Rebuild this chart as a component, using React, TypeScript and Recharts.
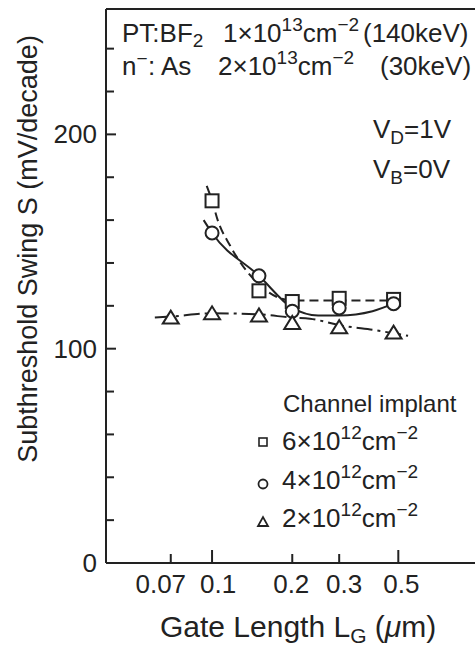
import React from 'react';
import { ComposedChart, Line, Scatter, XAxis, YAxis, ReferenceLine, Customized } from 'recharts';

const FONT = '"Liberation Sans", Arial, sans-serif';
const INK = '#222';

// Axis ticks
const xTickValues = [0.07, 0.1, 0.2, 0.3, 0.5];
const xTickLabels = ['0.07', '0.1', '0.2', '0.3', '0.5'];
const xTickNudge = [-10, 6, -1, 5, 3];
const xMajorTicks = [0.1, 0.5];
const yTickValues = [0, 20, 40, 60, 80, 100, 120, 140, 160, 180, 200, 220, 240];
const yLabeledTicks = [0, 100, 200];
const yMajorTicks = [0, 100, 200];

// Measured points: channel implant 6e12, 4e12, 2e12 cm^-2
const gateLength6 = [0.1, 0.15, 0.2, 0.3, 0.48];
const swing6 = [169, 127, 122, 123.5, 123];
const gateLength4 = [0.1, 0.15, 0.2, 0.3, 0.48];
const swing4 = [154, 134, 117.5, 119, 121];
const gateLength2 = [0.07, 0.1, 0.15, 0.2, 0.3, 0.48];
const swing2 = [114.5, 116.5, 115.5, 112, 110, 107.5];

// Hand-drawn guide curves
const curve6X = [0.0955, 0.1, 0.105, 0.117, 0.15, 0.2, 0.3, 0.48];
const curve6Y = [176, 169, 160, 148, 130, 122.5, 122.5, 122.5];
const curve4X = [0.093, 0.1, 0.15, 0.2, 0.25, 0.3, 0.4, 0.48];
const curve4Y = [160, 154, 134, 119, 115.5, 115.5, 117.5, 121];
const curve2X = [0.061, 0.07, 0.1, 0.15, 0.2, 0.233, 0.3, 0.415, 0.544];
const curve2Y = [114.6, 115, 116.5, 116, 114.5, 114, 111, 108.5, 106];

const toPoints = (xs: number[], ys: number[]) => xs.map((lg, i) => ({ lg, s: ys[i] }));

const pts6 = toPoints(gateLength6, swing6);
const pts4 = toPoints(gateLength4, swing4);
const pts2 = toPoints(gateLength2, swing2);
const fit6 = toPoints(curve6X, curve6Y);
const fit4 = toPoints(curve4X, curve4Y);
const fit2 = toPoints(curve2X, curve2Y);

const SquareMark = (p: any) => (
  <rect x={p.cx - 6.5} y={p.cy - 6.5} width={13} height={13} fill="#fff" stroke={INK} strokeWidth={2} />
);
const CircleMark = (p: any) => (
  <circle cx={p.cx} cy={p.cy} r={6.5} fill="#fff" stroke={INK} strokeWidth={2} />
);
const TriMark = (p: any) => (
  <polygon
    points={`${p.cx - 8},${p.cy + 6} ${p.cx + 8},${p.cy + 6} ${p.cx},${p.cy - 7}`}
    fill="#fff"
    stroke={INK}
    strokeWidth={2}
  />
);

const XTick = (props: any) => {
  const { x, y, payload } = props;
  const v = payload.value;
  const idx = xTickValues.indexOf(v);
  const len = xMajorTicks.includes(v) ? 13 : 9;
  return (
    <g>
      <line x1={x} x2={x} y1={y} y2={y - len} stroke={INK} strokeWidth={2} />
      <text
        x={x + (idx >= 0 ? xTickNudge[idx] : 0)}
        y={y + 30}
        textAnchor="middle"
        fontSize={26}
        fontFamily={FONT}
        fill={INK}
      >
        {idx >= 0 ? xTickLabels[idx] : String(v)}
      </text>
    </g>
  );
};

const YTick = (props: any) => {
  const { x, y, payload } = props;
  const v = payload.value;
  const len = yMajorTicks.includes(v) ? 10 : 8;
  return (
    <g>
      {v !== 0 && <line x1={x} x2={x + len} y1={y} y2={y} stroke={INK} strokeWidth={2} />}
      {yLabeledTicks.includes(v) && (
        <text x={x - 9} y={y + 9} textAnchor="end" fontSize={26} fontFamily={FONT} fill={INK}>
          {String(v)}
        </text>
      )}
    </g>
  );
};

const Annotations = () => {
  const common = { fontFamily: FONT, fill: INK } as any;
  return (
    <g>
      {/* Y title */}
      <text transform="translate(37,249) rotate(-90)" textAnchor="middle" fontSize={27} {...common}>
        Subthreshold Swing S (mV/decade)
      </text>
      {/* X title */}
      <text x={160} y={637} fontSize={30} {...common}>
        <tspan>Gate Length L</tspan>
        <tspan dy={6} fontSize={21}>G</tspan>
        <tspan dy={-6}> (</tspan>
        <tspan fontStyle="italic">μ</tspan>
        <tspan>m)</tspan>
      </text>
      {/* Process conditions */}
      <text y={42} fontSize={26} {...common}>
        <tspan x={122}>PT:BF</tspan>
        <tspan dy={5} fontSize={19}>2</tspan>
        <tspan x={223} dy={-5}>1×10</tspan>
        <tspan dy={-11} fontSize={19}>13</tspan>
        <tspan dy={11}>cm</tspan>
        <tspan dy={-11} fontSize={19}>−2</tspan>
        <tspan x={363} dy={11}>(140keV)</tspan>
      </text>
      <text y={75} fontSize={26} {...common}>
        <tspan x={122}>n</tspan>
        <tspan dy={-10} fontSize={19}>−</tspan>
        <tspan x={148} dy={10}>: As</tspan>
        <tspan x={218}>2×10</tspan>
        <tspan dy={-11} fontSize={19}>13</tspan>
        <tspan dy={11}>cm</tspan>
        <tspan dy={-11} fontSize={19}>−2</tspan>
        <tspan x={380} dy={11}>(30keV)</tspan>
      </text>
      <text y={138} fontSize={26} {...common}>
        <tspan x={373}>V</tspan>
        <tspan dy={6} fontSize={19}>D</tspan>
        <tspan dy={-6}>=1V</tspan>
      </text>
      <text y={178} fontSize={26} {...common}>
        <tspan x={373}>V</tspan>
        <tspan dy={6} fontSize={19}>B</tspan>
        <tspan dy={-6}>=0V</tspan>
      </text>
      {/* Legend */}
      <text x={283} y={412} fontSize={24} {...common}>Channel implant</text>
      <rect x={259} y={438} width={8} height={8} fill="#fff" stroke={INK} strokeWidth={1.6} />
      <circle cx={263} cy={484} r={4.5} fill="#fff" stroke={INK} strokeWidth={1.8} />
      <polygon points="258,526 268,526 263,517" fill="#fff" stroke={INK} strokeWidth={1.8} />
      {[
        { y: 450, d: '6' },
        { y: 489, d: '4' },
        { y: 527, d: '2' },
      ].map((r) => (
        <text key={r.d} y={r.y} fontSize={26} {...common}>
          <tspan x={282}>{r.d}×10</tspan>
          <tspan dy={-11} fontSize={19}>12</tspan>
          <tspan dy={11}>cm</tspan>
          <tspan dy={-11} fontSize={19}>−2</tspan>
        </text>
      ))}
    </g>
  );
};

export default function App() {
  return (
    <div style={{ position: 'absolute', left: 0, top: 0, width: 475, height: 650, background: '#fff' }}>
      <ComposedChart width={475} height={650} margin={{ top: 9, right: 0, bottom: 0, left: 0 }}>
        <XAxis
          dataKey="lg"
          type="number"
          scale="log"
          domain={[0.04, 0.97]}
          allowDataOverflow
          ticks={xTickValues}
          height={87}
          tickLine={false}
          tickSize={0}
          tickMargin={0}
          tick={<XTick />}
          axisLine={{ stroke: INK, strokeWidth: 2 }}
          interval={0}
        />
        <YAxis
          type="number"
          domain={[0, 258.5]}
          allowDataOverflow
          ticks={yTickValues}
          width={106}
          tickLine={false}
          tickSize={0}
          tickMargin={0}
          tick={<YTick />}
          axisLine={{ stroke: INK, strokeWidth: 2 }}
          interval={0}
        />
        <ReferenceLine y={258.5} stroke={INK} strokeWidth={2} />
        <Line data={fit6} dataKey="s" type="monotone" stroke={INK} strokeWidth={2} strokeDasharray="9 5" dot={false} isAnimationActive={false} />
        <Line data={fit4} dataKey="s" type="monotone" stroke={INK} strokeWidth={2} dot={false} isAnimationActive={false} />
        <Line data={fit2} dataKey="s" type="monotone" stroke={INK} strokeWidth={2} strokeDasharray="16 5 3 5" dot={false} isAnimationActive={false} />
        <Scatter data={pts6} dataKey="s" shape={SquareMark} isAnimationActive={false} />
        <Scatter data={pts4} dataKey="s" shape={CircleMark} isAnimationActive={false} />
        <Scatter data={pts2} dataKey="s" shape={TriMark} isAnimationActive={false} />
        <Customized component={Annotations} />
      </ComposedChart>
    </div>
  );
}
